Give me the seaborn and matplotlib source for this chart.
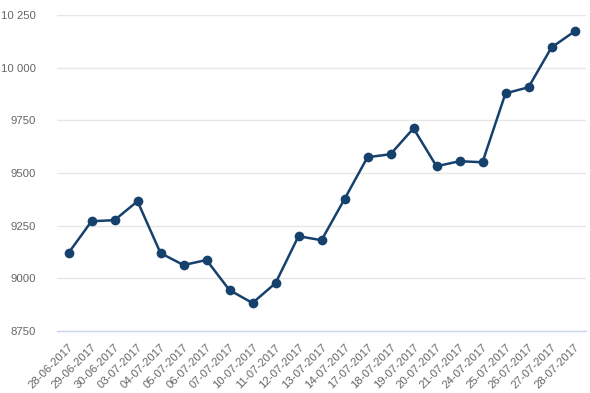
import numpy as np
import pandas as pd
import matplotlib.pyplot as plt
import matplotlib.ticker as mticker
import seaborn as sns

# data
dates = ['28-06-2017', '29-06-2017', '30-06-2017', '03-07-2017', '04-07-2017',
         '05-07-2017', '06-07-2017', '07-07-2017', '10-07-2017', '11-07-2017',
         '12-07-2017', '13-07-2017', '14-07-2017', '17-07-2017', '18-07-2017',
         '19-07-2017', '20-07-2017', '21-07-2017', '24-07-2017', '25-07-2017',
         '26-07-2017', '27-07-2017', '28-07-2017']
values = [9120, 9271, 9276, 9366, 9120, 9063, 9087, 8944, 8883, 8977,
          9200, 9181, 9376, 9575, 9589, 9712, 9532, 9556, 9551, 9878,
          9907, 10096, 10172]
y_ticks = [8750, 9000, 9250, 9500, 9750, 10000, 10250]

df = pd.DataFrame({'pos': np.arange(len(dates)), 'value': values})

sns.set_style('white')
plt.rcParams['font.family'] = ['Liberation Sans', 'DejaVu Sans']

fig = plt.figure(figsize=(5.9, 3.93), dpi=100)
ax = fig.add_axes([57 / 590, 62 / 393, 529 / 590, 316 / 393])

line_color = '#17416d'
sns.lineplot(data=df, x='pos', y='value', ax=ax, color=line_color, linewidth=1.8,
             marker='o', markersize=7, markeredgewidth=0, zorder=3)

ax.set_xlim(-0.5, len(dates) - 0.5)
ax.set_ylim(8750, 10250)

# y axis: gridlines, Highcharts-style number format
def fmt(v, pos):
    v = int(round(v))
    if v >= 10000:
        return f'{v:,}'.replace(',', ' ')
    return str(v)

ax.set_yticks(y_ticks)
ax.yaxis.set_major_formatter(mticker.FuncFormatter(fmt))
ax.grid(axis='y', color='#e6e6e6', linewidth=1)
ax.tick_params(axis='y', length=0, pad=15, labelsize=8.2, labelcolor='#666666')

# x axis: labels at categories, ticks at category boundaries
ax.set_xticks(np.arange(len(dates)))
ax.set_xticklabels(dates, rotation=45, ha='right', rotation_mode='anchor')
ax.tick_params(axis='x', length=0, pad=8, labelsize=8.2, labelcolor='#666666')
ax.set_xticks(np.arange(len(dates) + 1) - 0.5, minor=True)
ax.tick_params(axis='x', which='minor', length=6, color='#ccd6eb', width=1)

for side in ['top', 'right', 'left']:
    ax.spines[side].set_visible(False)
ax.spines['bottom'].set_color('#ccd6eb')
ax.spines['bottom'].set_linewidth(1)

ax.set_xlabel('')
ax.set_ylabel('')

fig.savefig('out.png', dpi=100)
